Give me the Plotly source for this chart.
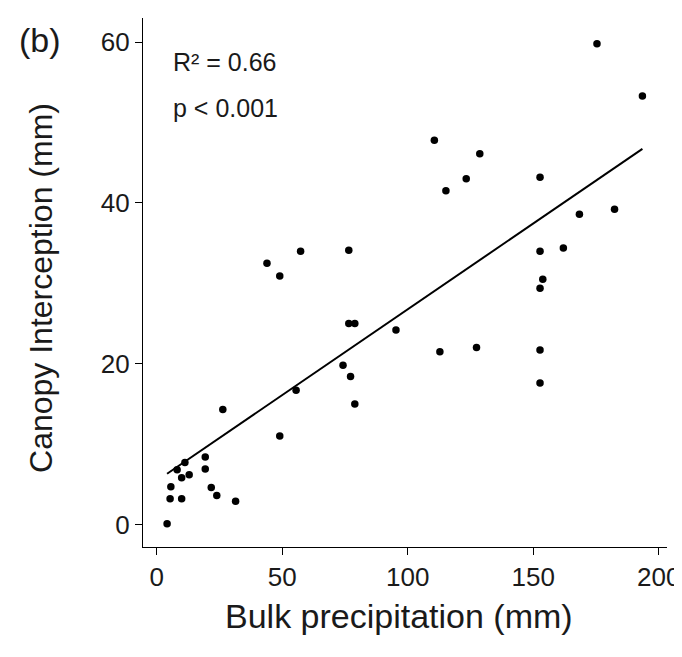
import numpy as np
import plotly.graph_objects as go

# Bulk precipitation (mm) and canopy interception (mm)
bulk_precip = [4.1, 5.3, 9.9, 5.6, 9.9, 12.9, 8.1, 11.2, 19.3, 19.3, 21.7, 23.9, 31.4,
               26.3, 49.0, 55.5,
               43.9, 49.0, 57.3, 76.5, 76.5, 78.9, 95.3, 74.2, 77.2, 78.9,
               110.6, 128.7, 123.3, 115.2, 152.7, 175.4, 193.5, 182.4, 168.4, 162.0,
               152.7, 153.8, 152.7, 112.8, 127.4, 152.7, 152.7]
canopy_interception = [0.1, 3.2, 3.2, 4.7, 5.8, 6.2, 6.8, 7.7, 8.4, 6.9, 4.6, 3.6, 2.9,
                       14.3, 11.0, 16.7,
                       32.5, 30.9, 34.0, 34.1, 25.0, 25.0, 24.2, 19.8, 18.4, 15.0,
                       47.8, 46.1, 43.0, 41.5, 43.2, 59.8, 53.3, 39.2, 38.6, 34.4,
                       34.0, 30.5, 29.4, 21.5, 22.0, 21.7, 17.6]

x_ticks = [0, 50, 100, 150, 200]
y_ticks = [0, 20, 40, 60]
stats_text = ["R² = 0.66", "p < 0.001"]
panel_label = "(b)"
x_title = "Bulk precipitation (mm)"
y_title = "Canopy Interception (mm)"

x = np.array(bulk_precip)
y = np.array(canopy_interception)
slope, intercept = np.polyfit(x, y, 1)
xf = np.array([x.min(), x.max()])
yf = slope * xf + intercept

W, H = 682, 657
L, R, T, B = 135, 18, 10, 118
pw, ph = W - L - R, H - T - B

def px(xp):
    return (xp - L) / pw

def py(yp):
    return (H - B - yp) / ph

FONT = "Liberation Sans, Arial, sans-serif"
TXT = "#1a1a1a"

fig = go.Figure()
fig.add_trace(go.Scatter(x=xf, y=yf, mode="lines",
                         line=dict(color="black", width=2), showlegend=False,
                         hoverinfo="skip"))
fig.add_trace(go.Scatter(x=x, y=y, mode="markers",
                         marker=dict(color="black", size=7.5), showlegend=False))

axis_common = dict(showline=True, linecolor="black", linewidth=1.3,
                   ticks="outside", ticklen=7, tickwidth=1.3, tickcolor="black",
                   showgrid=False, zeroline=False, mirror=False,
                   tickfont=dict(family=FONT, size=26, color=TXT))

fig.update_xaxes(range=[-5.5, 203.3], tickvals=x_ticks, **axis_common)
fig.update_yaxes(range=[-2.8, 63.0], tickvals=y_ticks, **axis_common)

annotations = [
    dict(text=stats_text[0], x=px(163), y=py(54), xanchor="left", yanchor="middle",
         font=dict(size=25)),
    dict(text=stats_text[1], x=px(163), y=py(100), xanchor="left", yanchor="middle",
         font=dict(size=25)),
    dict(text=panel_label, x=px(8), y=py(32), xanchor="left", yanchor="middle",
         font=dict(size=34)),
    dict(text=x_title, x=px(393), y=py(608), xanchor="center", yanchor="middle",
         font=dict(size=34)),
    dict(text=y_title, x=px(32), y=py(280), xanchor="center", yanchor="middle",
         textangle=-90, font=dict(size=32)),
]
for a in annotations:
    a.update(xref="paper", yref="paper", showarrow=False)
    a["font"].update(family=FONT, color=TXT)

fig.update_layout(width=W, height=H, margin=dict(l=L, r=R, t=T, b=B),
                  plot_bgcolor="white", paper_bgcolor="white",
                  annotations=annotations)

fig.write_html("out.html")
